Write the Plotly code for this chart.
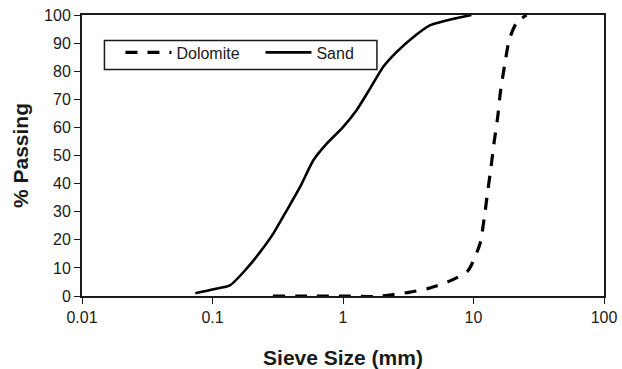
import plotly.graph_objects as go

sand_size = [0.0738, 0.102, 0.137, 0.183, 0.232, 0.293, 0.371, 0.469, 0.593, 0.75, 1.0,
             1.27, 1.61, 2.03, 2.57, 3.45, 4.63, 5.52, 6.93, 9.64]
sand_pass = [1.0, 2.4, 3.9, 9.8, 15.7, 22.3, 30.5, 38.8, 48.3, 54.2, 60.1,
             66.1, 73.8, 81.5, 86.8, 92.1, 96.3, 97.4, 98.6, 100.0]

dolo_size = [0.29, 0.6, 1.0, 1.8, 2.4, 3.2, 4.5, 6.47, 9.04, 11.2, 12.1, 12.8,
             13.6, 14.4, 15.3, 16.1, 17.3, 18.8, 21.4, 25.5]
dolo_pass = [0.0, 0.0, 0.0, -0.2, 0.5, 1.3, 2.7, 5.2, 8.9, 18.5, 27.9, 36.6,
             45.6, 54.9, 63.4, 72.8, 82.0, 91.3, 97.3, 100.0]

x_ticks = [0.01, 0.1, 1, 10, 100]
x_labels = ["0.01", "0.1", "1", "10", "100"]
y_ticks = list(range(0, 101, 10))

font_family = "Liberation Sans, Arial, sans-serif"
ink = "#1a1a1a"

fig = go.Figure()
fig.add_trace(go.Scatter(x=dolo_size, y=dolo_pass, mode="lines", name="Dolomite",
                         line=dict(color="black", width=3.2, dash="12px,10px", shape="spline",
                                   smoothing=0.6)))
fig.add_trace(go.Scatter(x=sand_size, y=sand_pass, mode="lines", name="Sand",
                         line=dict(color="black", width=2.6, shape="spline", smoothing=0.6)))

# legend frame
fig.add_shape(type="rect", xref="paper", yref="paper", x0=0.043, x1=0.565, y0=0.806, y1=0.9094,
              line=dict(color=ink, width=1.5), fillcolor="rgba(0,0,0,0)", layer="above")

fig.update_layout(
    width=622, height=369,
    margin=dict(l=81.5, r=17.5, t=14.5, b=73),
    paper_bgcolor="white", plot_bgcolor="white",
    font=dict(family=font_family, color=ink, size=16),
    showlegend=True,
    legend=dict(orientation="h", x=0.043, y=0.927, xanchor="left", yanchor="top",
                borderwidth=0, bgcolor="rgba(0,0,0,0)",
                font=dict(size=16, family=font_family, color=ink),
                entrywidth=63, entrywidthmode="pixels", itemwidth=46, indentation=16),
    xaxis=dict(type="log", range=[-2, 2], tickvals=x_ticks, ticktext=x_labels,
               showgrid=False, zeroline=False, showline=True, linecolor=ink,
               linewidth=2, mirror=True, ticks="outside", ticklen=6, tickcolor=ink,
               tickwidth=1.2, tickfont=dict(size=16), automargin=False,
               title=dict(text="<b>Sieve Size (mm)</b>", font=dict(size=21, family=font_family, color=ink),
                          standoff=25)),
    yaxis=dict(range=[0, 100], tickvals=y_ticks, showgrid=False, zeroline=False,
               showline=True, linecolor=ink, linewidth=2, mirror=True, automargin=False,
               ticks="outside", ticklen=6, tickcolor=ink, tickwidth=1.2, tickfont=dict(size=16),
               title=dict(text="<b>% Passing</b>", font=dict(size=21, family=font_family, color=ink),
                          standoff=10)),
)

fig.write_html("out.html")
